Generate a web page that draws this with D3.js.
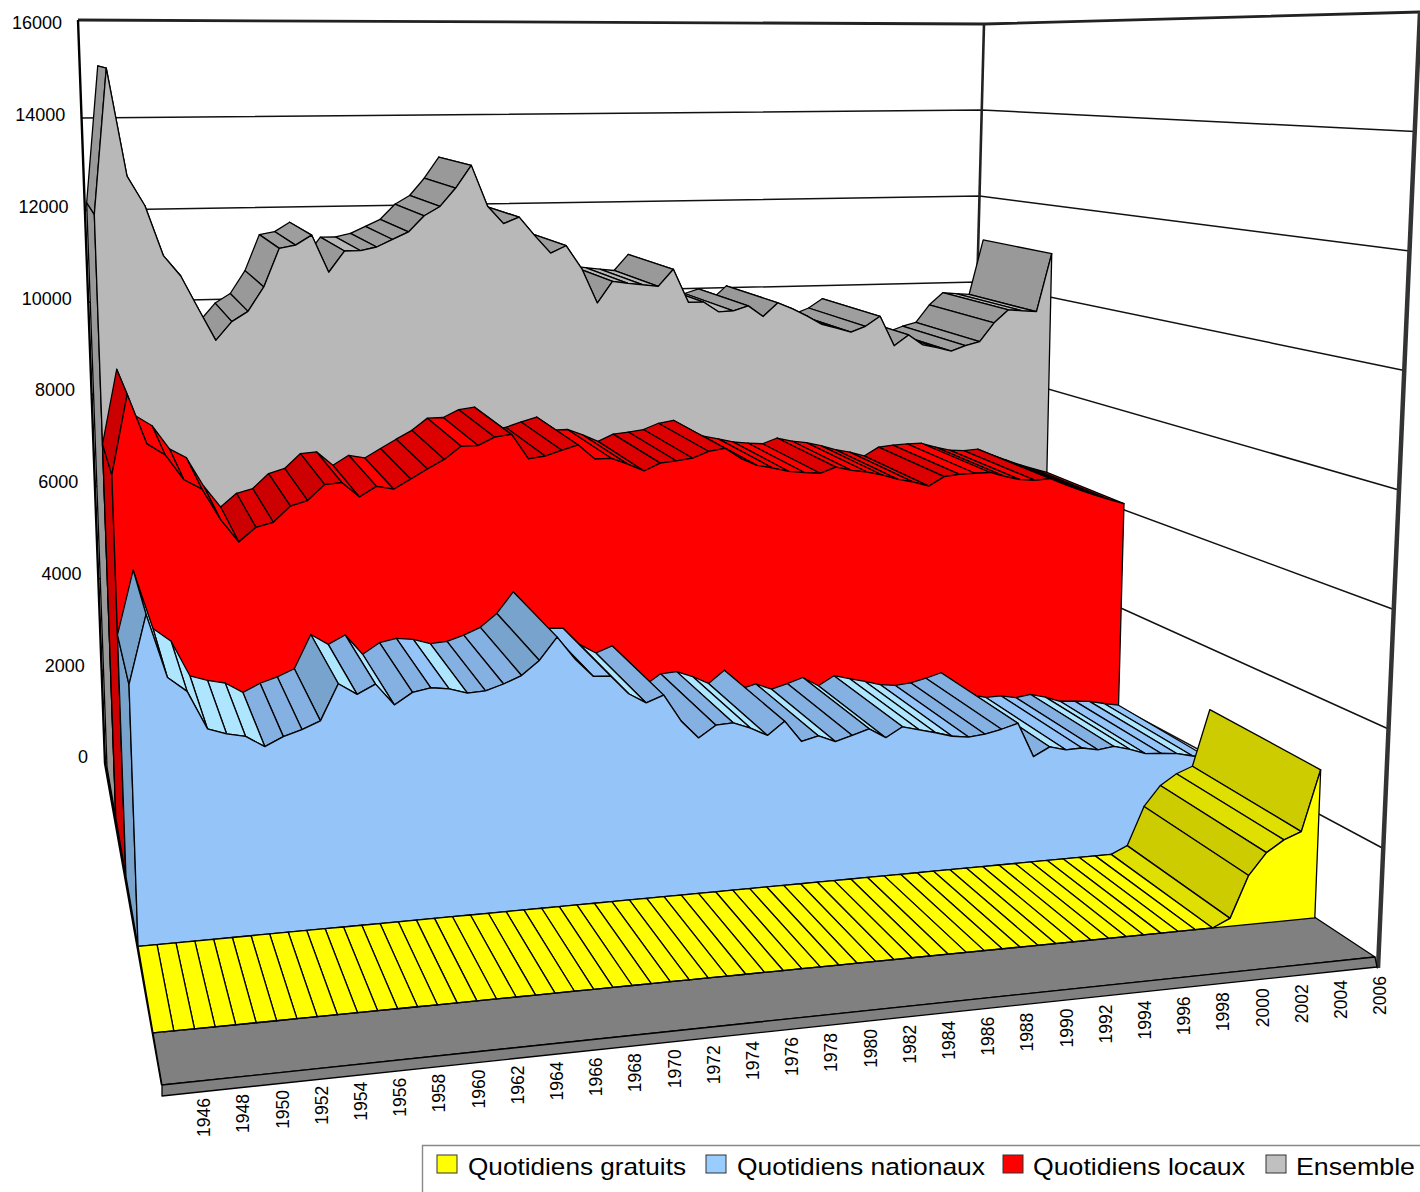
<!DOCTYPE html>
<html lang="fr">
<head>
<meta charset="UTF-8">
<title>Diffusion des quotidiens</title>
<style>
    html, body { margin: 0; padding: 0; background: #fff; }
    svg { display: block; }
    text { font-family: "Liberation Sans", Arial, sans-serif; fill: #000; }
    .val-label { font-size: 18px; text-anchor: end; }
    .year-label { font-size: 17.5px; text-anchor: start; }
    .legend-label { font-size: 24px; }
    .face { stroke: #000; stroke-width: 1.3; stroke-linejoin: round; }
</style>
</head>
<body>
<svg width="1420" height="1192"></svg>
<script src="https://d3js.org/d3.v7.min.js"></script>
<script>
const years = d3.range(1944, 2007);
const yearLabels = d3.range(1946, 2007, 2);
const valueTicks = [0, 2000, 4000, 6000, 8000, 10000, 12000, 14000, 16000];

const gratuits = [
    0, 0, 0, 0, 0, 0, 0, 0, 0, 0, 0, 0, 0, 0, 0, 0, 0, 0, 0, 0, 0,
    0, 0, 0, 0, 0, 0, 0, 0, 0, 0, 0, 0, 0, 0, 0, 0, 0, 0, 0, 0, 0,
    0, 0, 0, 0, 0, 0, 0, 0, 0, 0, 0, 0, 0, 0, 0,
    140, 870, 1250, 1450, 1570, 2650
];
const nationaux = [
    4500, 5690, 4580, 4320, 3650, 3540, 3470, 3270, 3420, 3520, 3650, 4280, 4070, 4230, 3840, 4040,
    4100, 4060, 3960, 3980, 4080, 4210, 4460, 4860, 4440, 4110, 4090, 3750, 3560, 3680, 3180, 2850,
    3060, 3080, 2960, 2800, 3040, 2640, 2720, 2590, 2680, 2780, 2590, 2770, 2690, 2610, 2520, 2480,
    2510, 2580, 2670, 2010, 2170, 2090, 2100, 2040, 2080, 2000, 1890, 1870, 1840, 1770, 1710
];
const locaux = [
    7480, 8970, 8030, 7810, 7330, 7140, 6550, 6110, 6370, 6450, 6740, 6830, 7120, 7140, 6850, 7040,
    6970, 7150, 7330, 7500, 7740, 7740, 7890, 7930, 7440, 7480, 7580, 7670, 7380, 7380, 7250, 7100,
    7240, 7270, 7310, 7430, 7480, 7260, 7110, 7040, 6960, 6920, 6890, 7000, 6920, 6870, 6790, 6690,
    6620, 6520, 6700, 6730, 6740, 6740, 6640, 6560, 6530, 6550, 6410, 6280, 6160, 6050, 5950
];
const ensemble = [
    12080, 15010, 12840, 12240, 11230, 10810, 10140, 9490, 9860, 10060, 10550, 11330, 11390, 11590, 10820, 11250,
    11250, 11320, 11470, 11620, 11950, 12140, 12520, 12990, 12130, 11760, 11890, 11490, 11120, 11270, 10780, 10040,
    10490, 10440, 10400, 10360, 10720, 10000, 10000, 9780, 9790, 9890, 9650, 9940, 9800, 9630, 9440, 9350,
    9250, 9370, 9580, 8920, 9150, 8920, 8850, 8760, 8870, 8950, 9360, 9640, 9610, 9580, 10880
];

const seriesNames = ["Quotidiens gratuits", "Quotidiens nationaux", "Quotidiens locaux", "Ensemble"];
const seriesValues = [gratuits, nationaux, locaux, ensemble];
// falling, flat, slowly rising, steeply rising, front face, legend
const seriesColors = [
    ["#ffff00", "#ffff00", "#e0e000", "#cccc00", "#ffff00", "#ffff00"],
    ["#aee6ff", "#94c4f8", "#85b0e2", "#78a3cc", "#94c4f8", "#99ccff"],
    ["#ff0000", "#ff0000", "#dd0000", "#cc0000", "#ff0000", "#ff0000"],
    ["#c8c8c8", "#b8b8b8", "#9e9e9e", "#999999", "#b8b8b8", "#c0c0c0"]
];

const svg = d3.select("svg");

// corners for the data planes: front left, front right, back right, back left
const A = [162, 1085], B = [1380, 961], C = [975, 693], D = [107, 767];
const floorRight = [1375, 957];
const dx1 = B[0] - C[0], dx2 = D[0] - C[0], sx = A[0] - B[0] + C[0] - D[0];
const dy1 = B[1] - C[1], dy2 = D[1] - C[1], sy = A[1] - B[1] + C[1] - D[1];
const den = dx1 * dy2 - dx2 * dy1;
const pg = (sx * dy2 - dx2 * sy) / den, ph = (dx1 * sy - sx * dy1) / den;
const pa = B[0] - A[0] + pg * B[0], pb = D[0] - A[0] + ph * D[0];
const pd = B[1] - A[1] + pg * B[1], pe = D[1] - A[1] + ph * D[1];

const warp = 0.045;
const vanish = [684, 16770];
const uScale = d3.scaleLinear().domain([1944, 2006]).range([0, 1]);
const wallHeight = d3.scaleLinear().domain([0, 1]).range([1072, 1000]);
const valueScale = d3.scaleLinear().domain([0, 16000]).range([0, 1]);

// depth of the plane edges, from the front of the yellow layer to the back of the grey one
const depths = [0.12, 0.35, 0.57, 0.785, 1];

function project(year, depth, value) {
    const t = uScale(year);
    const u = t * (1 + warp) / (1 + warp * t);
    const w = pg * u + ph * depth + 1;
    const x = (pa * u + pb * depth + A[0]) / w;
    const y = (pd * u + pe * depth + A[1]) / w;
    const h = valueScale(value) * wallHeight(u) / w;
    return [x + (x - vanish[0]) * h / (vanish[1] - y), y - h];
}

const poly = d3.line();

// walls have their own scales, the gridlines do not sit quite on the data planes
const wallX = [
    d3.scaleLinear().domain([0, 16000]).range([105, 78]),
    d3.scaleLinear().domain([0, 16000]).range([966, 984]),
    d3.scaleLinear().domain([0, 16000]).range([1378, 1420])
];
const wallY = [
    d3.scaleLinear().domain([0, 14000, 16000]).range([763, 118, 20]),
    d3.scaleLinear().domain([0, 16000]).range([712, 24]),
    d3.scaleLinear().domain([0, 16000]).range([968, 12])
];
const wallPoint = (k, v) => [wallX[k](v), wallY[k](v)];

const wallG = svg.append("g");
valueTicks.forEach(v => {
    wallG.append("path")
        .attr("d", poly([wallPoint(0, v), wallPoint(1, v), wallPoint(2, v)]))
        .attr("fill", "none")
        .attr("stroke", v === 16000 ? "#222" : "#111")
        .attr("stroke-width", v === 16000 ? 2.8 : 1.5);
});
wallG.append("path")
    .attr("d", poly([wallPoint(1, 16000), wallPoint(1, 0)]))
    .attr("stroke", "#222").attr("stroke-width", 2.6);
wallG.append("path")
    .attr("d", poly([wallPoint(2, 16000), wallPoint(2, 0)]))
    .attr("stroke", "#333").attr("stroke-width", 4.5);
wallG.append("path")
    .attr("d", poly([wallPoint(0, 16000), wallPoint(0, 0), A]))
    .attr("fill", "none").attr("stroke", "#000").attr("stroke-width", 2.4);

// floor with its thin front edge
const floorG = svg.append("g");
floorG.append("path").attr("class", "face").attr("fill", "#808080")
    .attr("d", poly([A, floorRight, C, D]) + "Z");
floorG.append("path").attr("class", "face").attr("fill", "#808080")
    .attr("d", poly([A, floorRight, [floorRight[0] + 2, floorRight[1] + 10], [A[0], A[1] + 11]]) + "Z");

function stripColor(colors, diff) {
    return d3.scaleThreshold().domain([-60, 20, 250]).range(colors)(diff);
}

// layers from back to front, strips from right to left, front face last
d3.range(seriesValues.length - 1, -1, -1).forEach(i => {
    const values = seriesValues[i];
    const colors = seriesColors[i];
    const front = depths[i], back = depths[i + 1];
    const g = svg.append("g");

    g.append("path").attr("class", "face").attr("fill", colors[3])
        .attr("d", poly([
            project(years[0], front, 0), project(years[0], front, values[0]),
            project(years[0], back, values[0]), project(years[0], back, 0)
        ]) + "Z");

    d3.range(years.length - 2, -1, -1).forEach(j => {
        g.append("path").attr("class", "face")
            .attr("fill", stripColor(colors, values[j + 1] - values[j]))
            .attr("d", poly([
                project(years[j], front, values[j]), project(years[j + 1], front, values[j + 1]),
                project(years[j + 1], back, values[j + 1]), project(years[j], back, values[j])
            ]) + "Z");
    });

    const top = years.map((yr, j) => project(yr, front, values[j]));
    g.append("path").attr("class", "face").attr("fill", colors[4])
        .attr("d", poly(top.concat([project(2006, front, 0), project(1944, front, 0)])) + "Z");
});

// value labels
const labelY = d3.scaleLinear().domain([0, 16000]).range([757, 23]);
const labelX = d3.scaleLinear().domain([0, 16000]).range([88, 62]);
svg.append("g").selectAll("text").data(valueTicks).join("text")
    .attr("class", "val-label")
    .attr("x", d => labelX(d))
    .attr("y", d => labelY(d))
    .attr("dy", ".35em")
    .text(d => d);

// year labels
const yearX = d3.scaleLinear().domain([1946, 2006]).range([204, 1380]);
const yearY = d3.scaleLinear().domain([1946, 2006]).range([1137, 1015]);
svg.append("g").selectAll("text").data(yearLabels).join("text")
    .attr("class", "year-label")
    .attr("transform", d => `translate(${yearX(d)},${yearY(d)}) rotate(-90)`)
    .attr("dy", ".35em")
    .text(d => d);

// legend
const legendG = svg.append("g");
legendG.append("path").attr("d", "M1420,1145.5H422.5V1192")
    .attr("fill", "none").attr("stroke", "#888").attr("stroke-width", 1.4);
const swatchX = [437, 706, 1003, 1266];
const legendTextX = [468, 737, 1033, 1296];
const legendTextW = [218, 248, 212, 119];
seriesNames.forEach((name, i) => {
    legendG.append("rect")
        .attr("x", swatchX[i]).attr("y", 1155).attr("width", 20).attr("height", 18)
        .attr("fill", seriesColors[i][5]).attr("stroke", "#333").attr("stroke-width", 1);
    legendG.append("text").attr("class", "legend-label")
        .attr("x", legendTextX[i]).attr("y", 1175)
        .attr("textLength", legendTextW[i]).attr("lengthAdjust", "spacingAndGlyphs")
        .text(name);
});
</script>
</body>
</html>
